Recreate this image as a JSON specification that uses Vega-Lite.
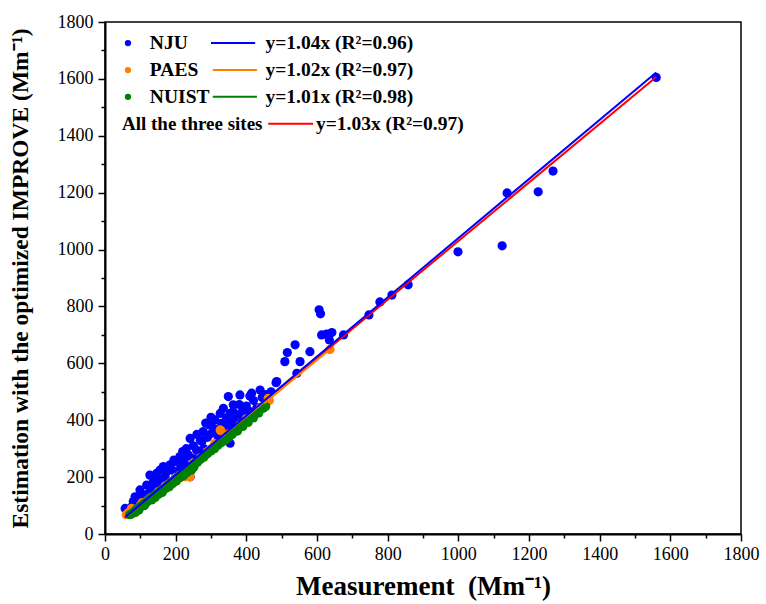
{
  "$schema": "https://vega.github.io/schema/vega-lite/v6.json",
  "width": 636,
  "height": 512,
  "autosize": {"type": "none"},
  "padding": {"left": 105, "top": 22, "right": 25, "bottom": 70},
  "background": "white",
  "data": {"values": [{}]},
  "config": {
    "view": {"stroke": "black", "strokeWidth": 1.5},
    "font": "Liberation Serif",
    "axis": {
      "grid": false,
      "domainColor": "black",
      "domainWidth": 2,
      "tickColor": "black",
      "tickWidth": 1.5,
      "labelFont": "Liberation Serif",
      "labelFontSize": 18,
      "labelColor": "black",
      "titleFont": "Liberation Serif",
      "titleFontWeight": "bold",
      "titleColor": "black",
      "format": "d"
    }
  },
  "datasets": {
    "points": [
      {"site": "NJU", "x": 1560, "y": 1605}, {"site": "NJU", "x": 1268, "y": 1276}, {"site": "NJU", "x": 1226, "y": 1203},
      {"site": "NJU", "x": 1138, "y": 1199}, {"site": "NJU", "x": 1124, "y": 1013}, {"site": "NJU", "x": 999, "y": 992},
      {"site": "NJU", "x": 858, "y": 876}, {"site": "NJU", "x": 812, "y": 840}, {"site": "NJU", "x": 778, "y": 816},
      {"site": "NJU", "x": 747, "y": 770}, {"site": "NJU", "x": 675, "y": 700}, {"site": "NJU", "x": 606, "y": 788},
      {"site": "NJU", "x": 610, "y": 774}, {"site": "NJU", "x": 642, "y": 708}, {"site": "NJU", "x": 627, "y": 703},
      {"site": "NJU", "x": 613, "y": 700}, {"site": "NJU", "x": 635, "y": 682}, {"site": "NJU", "x": 580, "y": 641},
      {"site": "NJU", "x": 538, "y": 665}, {"site": "NJU", "x": 552, "y": 606}, {"site": "NJU", "x": 516, "y": 638},
      {"site": "NJU", "x": 509, "y": 606}, {"site": "NJU", "x": 543, "y": 565}, {"site": "NJU", "x": 486, "y": 536},
      {"site": "NJU", "x": 439, "y": 506}, {"site": "NJU", "x": 415, "y": 495}, {"site": "NJU", "x": 484, "y": 532},
      {"site": "NJU", "x": 382, "y": 489}, {"site": "NJU", "x": 349, "y": 483}, {"site": "NJU", "x": 335, "y": 442},
      {"site": "NJU", "x": 363, "y": 430}, {"site": "NJU", "x": 390, "y": 436}, {"site": "NJU", "x": 344, "y": 407},
      {"site": "NJU", "x": 311, "y": 401}, {"site": "NJU", "x": 359, "y": 395}, {"site": "NJU", "x": 297, "y": 383},
      {"site": "NJU", "x": 410, "y": 485}, {"site": "NJU", "x": 363, "y": 454}, {"site": "NJU", "x": 326, "y": 424},
      {"site": "NJU", "x": 354, "y": 424}, {"site": "NJU", "x": 302, "y": 395}, {"site": "NJU", "x": 330, "y": 389},
      {"site": "NJU", "x": 278, "y": 360}, {"site": "NJU", "x": 302, "y": 354}, {"site": "NJU", "x": 241, "y": 336},
      {"site": "NJU", "x": 354, "y": 319}, {"site": "NJU", "x": 274, "y": 325}, {"site": "NJU", "x": 259, "y": 295},
      {"site": "NJU", "x": 236, "y": 278}, {"site": "NJU", "x": 212, "y": 272}, {"site": "NJU", "x": 203, "y": 254},
      {"site": "NJU", "x": 184, "y": 239}, {"site": "NJU", "x": 156, "y": 225}, {"site": "NJU", "x": 146, "y": 207},
      {"site": "NJU", "x": 175, "y": 219}, {"site": "NJU", "x": 241, "y": 201}, {"site": "NJU", "x": 226, "y": 266},
      {"site": "NJU", "x": 207, "y": 254}, {"site": "NJU", "x": 236, "y": 237}, {"site": "NJU", "x": 184, "y": 243},
      {"site": "NJU", "x": 165, "y": 237}, {"site": "NJU", "x": 146, "y": 213}, {"site": "NJU", "x": 127, "y": 207},
      {"site": "NJU", "x": 137, "y": 184}, {"site": "NJU", "x": 118, "y": 172}, {"site": "NJU", "x": 99, "y": 155},
      {"site": "NJU", "x": 108, "y": 137}, {"site": "NJU", "x": 85, "y": 131}, {"site": "NJU", "x": 80, "y": 114},
      {"site": "NJU", "x": 57, "y": 90}, {"site": "NJU", "x": 290, "y": 340}, {"site": "NJU", "x": 310, "y": 370},
      {"site": "NJU", "x": 320, "y": 350}, {"site": "NJU", "x": 340, "y": 380}, {"site": "NJU", "x": 350, "y": 410},
      {"site": "NJU", "x": 365, "y": 405}, {"site": "NJU", "x": 372, "y": 420}, {"site": "NJU", "x": 380, "y": 455},
      {"site": "NJU", "x": 395, "y": 415}, {"site": "NJU", "x": 400, "y": 450}, {"site": "NJU", "x": 420, "y": 470},
      {"site": "NJU", "x": 430, "y": 445}, {"site": "NJU", "x": 445, "y": 480}, {"site": "NJU", "x": 455, "y": 490},
      {"site": "NJU", "x": 470, "y": 500}, {"site": "NJU", "x": 300, "y": 410}, {"site": "NJU", "x": 285, "y": 390},
      {"site": "NJU", "x": 270, "y": 330}, {"site": "NJU", "x": 260, "y": 350}, {"site": "NJU", "x": 250, "y": 310},
      {"site": "NJU", "x": 230, "y": 300}, {"site": "NJU", "x": 220, "y": 290}, {"site": "NJU", "x": 215, "y": 250},
      {"site": "NJU", "x": 195, "y": 260}, {"site": "NJU", "x": 190, "y": 225}, {"site": "NJU", "x": 170, "y": 200},
      {"site": "NJU", "x": 160, "y": 185}, {"site": "NJU", "x": 150, "y": 175}, {"site": "NJU", "x": 130, "y": 160},
      {"site": "NJU", "x": 120, "y": 140}, {"site": "NJU", "x": 110, "y": 125}, {"site": "NJU", "x": 100, "y": 120},
      {"site": "NJU", "x": 95, "y": 105}, {"site": "NJU", "x": 90, "y": 95}, {"site": "NJU", "x": 75, "y": 95},
      {"site": "NJU", "x": 70, "y": 85}, {"site": "NJU", "x": 140, "y": 150}, {"site": "NJU", "x": 160, "y": 160},
      {"site": "NJU", "x": 180, "y": 175}, {"site": "NJU", "x": 200, "y": 200}, {"site": "NJU", "x": 210, "y": 225},
      {"site": "NJU", "x": 230, "y": 240}, {"site": "NJU", "x": 250, "y": 265}, {"site": "NJU", "x": 270, "y": 280},
      {"site": "NJU", "x": 280, "y": 300}, {"site": "NJU", "x": 320, "y": 330}, {"site": "NJU", "x": 340, "y": 360},
      {"site": "NJU", "x": 360, "y": 370}, {"site": "NJU", "x": 390, "y": 400}, {"site": "NJU", "x": 410, "y": 430},
      {"site": "PAES", "x": 637, "y": 649}, {"site": "PAES", "x": 465, "y": 469}, {"site": "PAES", "x": 462, "y": 477},
      {"site": "PAES", "x": 328, "y": 363}, {"site": "PAES", "x": 326, "y": 366}, {"site": "PAES", "x": 241, "y": 201},
      {"site": "PAES", "x": 228, "y": 210}, {"site": "PAES", "x": 226, "y": 201}, {"site": "PAES", "x": 75, "y": 90},
      {"site": "PAES", "x": 66, "y": 75}, {"site": "PAES", "x": 80, "y": 78}, {"site": "PAES", "x": 90, "y": 88},
      {"site": "PAES", "x": 100, "y": 100}, {"site": "PAES", "x": 110, "y": 108}, {"site": "PAES", "x": 120, "y": 118},
      {"site": "PAES", "x": 130, "y": 128}, {"site": "PAES", "x": 140, "y": 135}, {"site": "PAES", "x": 150, "y": 148},
      {"site": "PAES", "x": 160, "y": 155}, {"site": "PAES", "x": 170, "y": 168}, {"site": "PAES", "x": 180, "y": 175},
      {"site": "PAES", "x": 190, "y": 185}, {"site": "PAES", "x": 200, "y": 198}, {"site": "PAES", "x": 210, "y": 205},
      {"site": "PAES", "x": 250, "y": 250}, {"site": "PAES", "x": 270, "y": 268}, {"site": "PAES", "x": 290, "y": 290},
      {"site": "PAES", "x": 300, "y": 300}, {"site": "PAES", "x": 310, "y": 318}, {"site": "PAES", "x": 350, "y": 352},
      {"site": "PAES", "x": 380, "y": 380}, {"site": "PAES", "x": 400, "y": 405}, {"site": "PAES", "x": 420, "y": 420},
      {"site": "PAES", "x": 440, "y": 445}, {"site": "PAES", "x": 60, "y": 68}, {"site": "PAES", "x": 85, "y": 82},
      {"site": "PAES", "x": 95, "y": 92}, {"site": "PAES", "x": 105, "y": 110}, {"site": "PAES", "x": 115, "y": 112},
      {"site": "PAES", "x": 125, "y": 122},
      {"site": "NUIST", "x": 70, "y": 68}, {"site": "NUIST", "x": 75, "y": 70}, {"site": "NUIST", "x": 80, "y": 76},
      {"site": "NUIST", "x": 85, "y": 80}, {"site": "NUIST", "x": 88, "y": 85}, {"site": "NUIST", "x": 92, "y": 86},
      {"site": "NUIST", "x": 95, "y": 92}, {"site": "NUIST", "x": 98, "y": 93}, {"site": "NUIST", "x": 100, "y": 95},
      {"site": "NUIST", "x": 105, "y": 100}, {"site": "NUIST", "x": 108, "y": 103}, {"site": "NUIST", "x": 110, "y": 108},
      {"site": "NUIST", "x": 115, "y": 110}, {"site": "NUIST", "x": 118, "y": 112}, {"site": "NUIST", "x": 120, "y": 116},
      {"site": "NUIST", "x": 125, "y": 120}, {"site": "NUIST", "x": 128, "y": 122}, {"site": "NUIST", "x": 130, "y": 126},
      {"site": "NUIST", "x": 135, "y": 130}, {"site": "NUIST", "x": 138, "y": 131}, {"site": "NUIST", "x": 140, "y": 135},
      {"site": "NUIST", "x": 145, "y": 140}, {"site": "NUIST", "x": 148, "y": 141}, {"site": "NUIST", "x": 150, "y": 145},
      {"site": "NUIST", "x": 155, "y": 148}, {"site": "NUIST", "x": 158, "y": 150}, {"site": "NUIST", "x": 160, "y": 155},
      {"site": "NUIST", "x": 165, "y": 158}, {"site": "NUIST", "x": 170, "y": 162}, {"site": "NUIST", "x": 175, "y": 168},
      {"site": "NUIST", "x": 180, "y": 172}, {"site": "NUIST", "x": 185, "y": 178}, {"site": "NUIST", "x": 190, "y": 182},
      {"site": "NUIST", "x": 195, "y": 188}, {"site": "NUIST", "x": 200, "y": 192}, {"site": "NUIST", "x": 205, "y": 198},
      {"site": "NUIST", "x": 210, "y": 203}, {"site": "NUIST", "x": 215, "y": 206}, {"site": "NUIST", "x": 220, "y": 212},
      {"site": "NUIST", "x": 225, "y": 218}, {"site": "NUIST", "x": 230, "y": 222}, {"site": "NUIST", "x": 235, "y": 226},
      {"site": "NUIST", "x": 240, "y": 232}, {"site": "NUIST", "x": 248, "y": 240}, {"site": "NUIST", "x": 255, "y": 248},
      {"site": "NUIST", "x": 262, "y": 252}, {"site": "NUIST", "x": 270, "y": 262}, {"site": "NUIST", "x": 280, "y": 270},
      {"site": "NUIST", "x": 290, "y": 282}, {"site": "NUIST", "x": 300, "y": 292}, {"site": "NUIST", "x": 310, "y": 300},
      {"site": "NUIST", "x": 320, "y": 312}, {"site": "NUIST", "x": 330, "y": 322}, {"site": "NUIST", "x": 340, "y": 330},
      {"site": "NUIST", "x": 350, "y": 338}, {"site": "NUIST", "x": 360, "y": 350}, {"site": "NUIST", "x": 375, "y": 362},
      {"site": "NUIST", "x": 390, "y": 378}, {"site": "NUIST", "x": 405, "y": 392}, {"site": "NUIST", "x": 420, "y": 408},
      {"site": "NUIST", "x": 435, "y": 425}, {"site": "NUIST", "x": 448, "y": 442}, {"site": "NUIST", "x": 455, "y": 448},
      {"site": "NUIST", "x": 112, "y": 100}, {"site": "NUIST", "x": 132, "y": 120}, {"site": "NUIST", "x": 152, "y": 140},
      {"site": "NUIST", "x": 172, "y": 160}, {"site": "NUIST", "x": 192, "y": 178}, {"site": "NUIST", "x": 212, "y": 198},
      {"site": "NUIST", "x": 232, "y": 216}, {"site": "NUIST", "x": 252, "y": 236}, {"site": "NUIST", "x": 96, "y": 84},
      {"site": "NUIST", "x": 86, "y": 76}, {"site": "NUIST", "x": 142, "y": 128}, {"site": "NUIST", "x": 162, "y": 146},
      {"site": "NUIST", "x": 182, "y": 166}, {"site": "NUIST", "x": 202, "y": 186}, {"site": "NUIST", "x": 222, "y": 205},
      {"site": "NUIST", "x": 245, "y": 225}
    ],
    "fits": [
      {"site": "All", "x": 57, "y": 58.71}, {"site": "All", "x": 1560, "y": 1606.8},
      {"site": "PAES", "x": 66, "y": 67.32}, {"site": "PAES", "x": 637, "y": 649.74},
      {"site": "NUIST", "x": 72, "y": 72.72}, {"site": "NUIST", "x": 452, "y": 456.52},
      {"site": "NJU", "x": 57, "y": 59.28}, {"site": "NJU", "x": 1560, "y": 1622.4}
    ]
  },
  "encoding": {
    "x": {
      "type": "quantitative",
      "scale": {"domain": [0, 1800], "nice": false, "zero": false},
      "axis": {
        "title": "Measurement \u00a0(Mm⁻¹)",
        "titleFontSize": 27,
        "titlePadding": 10,
        "values": [0, 100, 200, 300, 400, 500, 600, 700, 800, 900, 1000, 1100, 1200, 1300, 1400, 1500, 1600, 1700, 1800],
        "labelExpr": "datum.value % 200 === 0 ? datum.label : ''",
        "labelPadding": 4,
        "labelFlush": false,
        "tickSize": {"condition": {"test": "datum.value % 200 === 0", "value": 7}, "value": 4}
      }
    },
    "y": {
      "type": "quantitative",
      "scale": {"domain": [0, 1800], "nice": false, "zero": false},
      "axis": {
        "title": "Estimation with the optimized IMPROVE (Mm⁻¹)",
        "titleFontSize": 23.5,
        "titlePadding": 25,
        "values": [0, 100, 200, 300, 400, 500, 600, 700, 800, 900, 1000, 1100, 1200, 1300, 1400, 1500, 1600, 1700, 1800],
        "labelExpr": "datum.value % 200 === 0 ? datum.label : ''",
        "labelPadding": 5,
        "labelFlush": false,
        "tickSize": {"condition": {"test": "datum.value % 200 === 0", "value": 7}, "value": 4}
      }
    }
  },
  "layer": [
    {
      "data": {"name": "points"},
      "mark": {"type": "circle", "size": 85, "opacity": 1},
      "encoding": {
        "x": {"field": "x"},
        "y": {"field": "y"},
        "color": {
          "field": "site",
          "type": "nominal",
          "scale": {"domain": ["NJU", "PAES", "NUIST", "All"], "range": ["#0000ff", "#ff8000", "#008000", "#ff0000"]},
          "legend": null
        }
      }
    },
    {
      "data": {"name": "fits"},
      "mark": {"type": "line", "strokeWidth": 2},
      "encoding": {
        "x": {"field": "x"},
        "y": {"field": "y"},
        "color": {"field": "site", "type": "nominal", "legend": null},
        "order": {"field": "x"}
      }
    },
    {
      "mark": {"type": "circle", "size": 40, "opacity": 1, "color": "#0000ff"},
      "encoding": {"x": {"datum": 65}, "y": {"datum": 1726}}
    },
    {
      "mark": {"type": "circle", "size": 40, "opacity": 1, "color": "#ff8000"},
      "encoding": {"x": {"datum": 65}, "y": {"datum": 1631}}
    },
    {
      "mark": {"type": "circle", "size": 40, "opacity": 1, "color": "#008000"},
      "encoding": {"x": {"datum": 65}, "y": {"datum": 1537}}
    },
    {
      "mark": {"type": "rule", "strokeWidth": 2, "color": "#0000ff"},
      "encoding": {"x": {"datum": 300}, "x2": {"datum": 425}, "y": {"datum": 1726}}
    },
    {
      "mark": {"type": "rule", "strokeWidth": 2, "color": "#ff8000"},
      "encoding": {"x": {"datum": 305}, "x2": {"datum": 430}, "y": {"datum": 1631}}
    },
    {
      "mark": {"type": "rule", "strokeWidth": 2, "color": "#008000"},
      "encoding": {"x": {"datum": 305}, "x2": {"datum": 430}, "y": {"datum": 1537}}
    },
    {
      "mark": {"type": "rule", "strokeWidth": 2, "color": "#ff0000"},
      "encoding": {"x": {"datum": 462}, "x2": {"datum": 589}, "y": {"datum": 1442}}
    },
    {
      "mark": {"type": "text", "align": "left", "baseline": "middle", "font": "Liberation Serif", "fontWeight": "bold", "fontSize": 19.5, "color": "black"},
      "encoding": {"x": {"datum": 127}, "y": {"datum": 1726}, "text": {"value": "NJU"}}
    },
    {
      "mark": {"type": "text", "align": "left", "baseline": "middle", "font": "Liberation Serif", "fontWeight": "bold", "fontSize": 19.5, "color": "black"},
      "encoding": {"x": {"datum": 127}, "y": {"datum": 1631}, "text": {"value": "PAES"}}
    },
    {
      "mark": {"type": "text", "align": "left", "baseline": "middle", "font": "Liberation Serif", "fontWeight": "bold", "fontSize": 19.5, "color": "black"},
      "encoding": {"x": {"datum": 127}, "y": {"datum": 1537}, "text": {"value": "NUIST"}}
    },
    {
      "mark": {"type": "text", "align": "left", "baseline": "middle", "font": "Liberation Serif", "fontWeight": "bold", "fontSize": 19, "color": "black"},
      "encoding": {"x": {"datum": 48}, "y": {"datum": 1442}, "text": {"value": "All the three sites"}}
    },
    {
      "mark": {"type": "text", "align": "left", "baseline": "middle", "font": "Liberation Serif", "fontWeight": "bold", "fontSize": 19.5, "color": "black"},
      "encoding": {"x": {"datum": 454}, "y": {"datum": 1726}, "text": {"value": "y=1.04x (R²=0.96)"}}
    },
    {
      "mark": {"type": "text", "align": "left", "baseline": "middle", "font": "Liberation Serif", "fontWeight": "bold", "fontSize": 19.5, "color": "black"},
      "encoding": {"x": {"datum": 454}, "y": {"datum": 1631}, "text": {"value": "y=1.02x (R²=0.97)"}}
    },
    {
      "mark": {"type": "text", "align": "left", "baseline": "middle", "font": "Liberation Serif", "fontWeight": "bold", "fontSize": 19.5, "color": "black"},
      "encoding": {"x": {"datum": 454}, "y": {"datum": 1537}, "text": {"value": "y=1.01x (R²=0.98)"}}
    },
    {
      "mark": {"type": "text", "align": "left", "baseline": "middle", "font": "Liberation Serif", "fontWeight": "bold", "fontSize": 19.5, "color": "black"},
      "encoding": {"x": {"datum": 597}, "y": {"datum": 1442}, "text": {"value": "y=1.03x (R²=0.97)"}}
    }
  ]
}
